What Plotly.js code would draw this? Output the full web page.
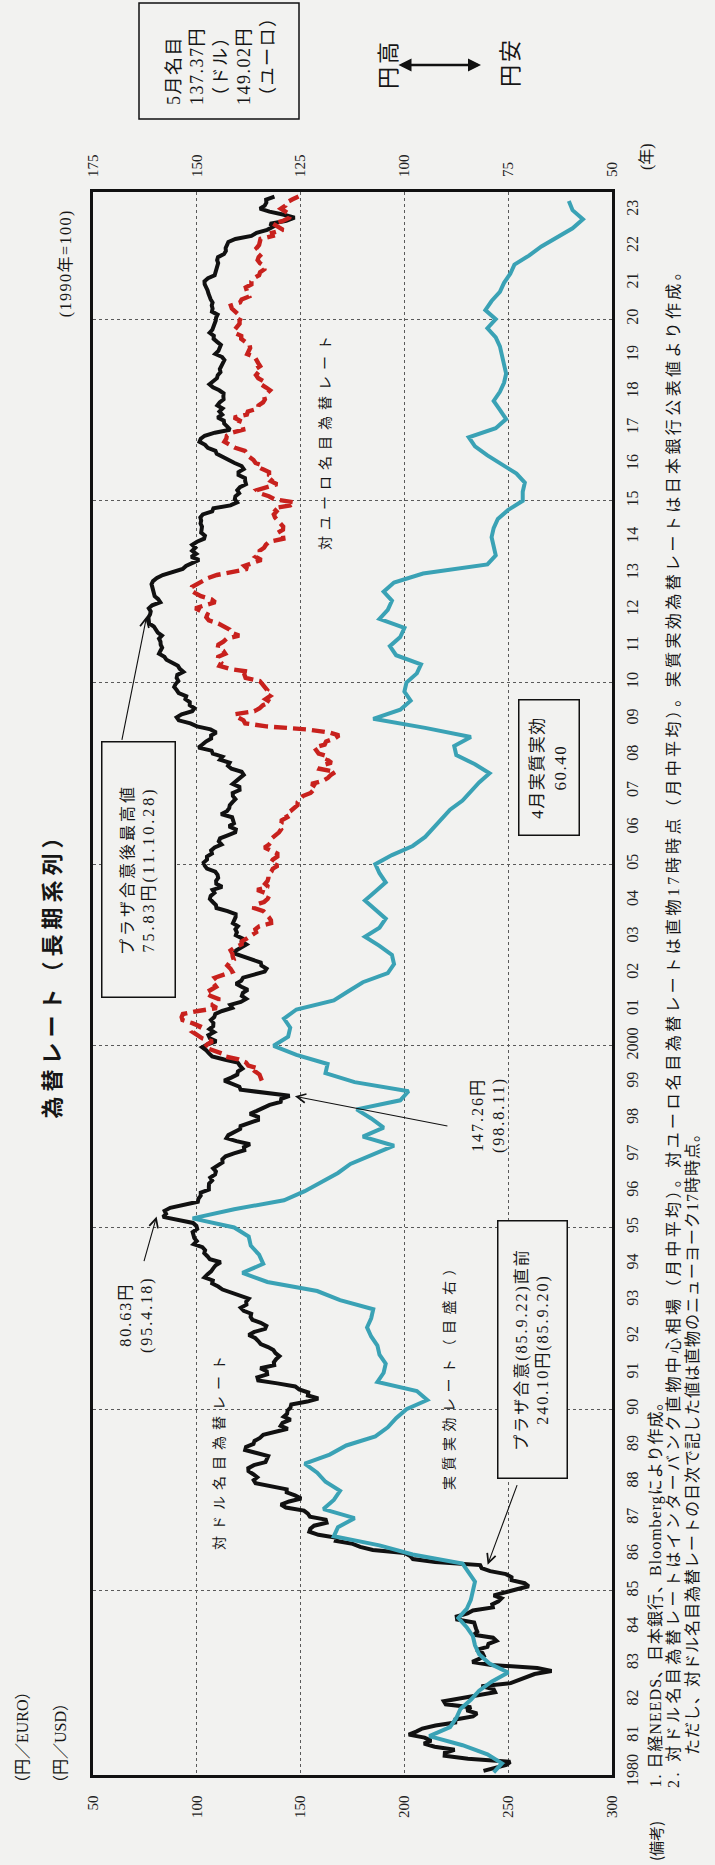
<!DOCTYPE html>
<html>
<head>
<meta charset="utf-8">
<script src="https://cdn.plot.ly/plotly-3.0.1.min.js"></script>
<style>
html,body{margin:0;padding:0;background:#f2f2f0;}
#chart{width:715px;height:1865px;}
</style>
</head>
<body>
<div id="chart"></div>
<script>
// ---------------- DATA ----------------
const yearTicks = [1980,1981,1982,1983,1984,1985,1986,1987,1988,1989,1990,1991,1992,1993,1994,1995,1996,1997,1998,1999,
  2000,2001,2002,2003,2004,2005,2006,2007,2008,2009,2010,2011,2012,2013,2014,2015,2016,2017,2018,2019,2020,2021,2022,2023];
const yearLabels = ['1980','81','82','83','84','85','86','87','88','89','90','91','92','93','94','95','96','97','98','99',
  '2000','01','02','03','04','05','06','07','08','09','10','11','12','13','14','15','16','17','18','19','20','21','22','23'];
const gridYears = [1985,1990,1995,2000,2005,2010,2015,2020];
const leftTicks = [50,100,150,200,250,300];      // 円/USD, 円/EURO
const rightTicks = [175,150,125,100,75,50];      // 1990年=100

// 対ドル名目為替レート (月中平均), 1980年1月から
const usdStart = 1980;
const usdMonthly = [
 238.1,244.1,249.1,251.0,230.6,219.4,219.5,224.2,214.6,209.4,212.9,209.7,
 202.1,205.7,208.6,215.0,224.5,224.6,233.0,235.0,230.0,232.1,219.9,219.0,
 226.7,235.4,243.7,243.0,237.1,251.2,255.1,258.7,262.7,270.9,264.0,241.9,
 232.7,236.0,238.3,237.6,234.7,240.0,240.5,244.3,242.7,233.4,235.1,234.5,
 233.9,233.6,225.4,225.2,230.4,233.0,242.6,242.3,245.3,246.8,243.0,247.9,
 254.2,259.9,257.9,251.6,251.6,248.9,241.3,237.2,236.5,214.8,204.1,202.8,
 200.1,184.8,178.7,175.1,167.0,167.5,158.6,154.2,154.7,156.5,162.5,162.1,
 154.5,153.5,151.6,142.9,140.5,144.5,150.3,147.3,143.3,143.3,135.4,128.3,
 127.4,129.1,127.2,124.9,124.8,127.5,133.1,133.5,134.4,128.8,123.3,123.7,
 127.3,127.8,130.4,132.0,138.4,143.8,140.4,141.3,145.2,141.9,143.5,143.7,
 145.1,145.5,153.2,158.5,153.5,153.7,149.3,147.4,138.8,129.6,129.2,133.9,
 133.7,130.6,137.3,137.1,138.2,139.8,137.9,136.9,134.3,130.8,129.6,128.1,
 125.0,127.7,132.9,133.5,130.8,126.8,125.9,126.2,122.6,121.2,123.9,123.8,
 125.0,120.8,117.0,112.4,110.3,107.4,107.7,103.7,105.1,106.9,107.9,109.1,
 111.5,106.3,105.1,103.6,104.0,102.7,98.5,100.0,98.8,98.4,98.0,100.2,
 99.8,98.2,90.8,83.7,85.2,84.5,87.2,94.6,100.5,100.8,101.9,101.9,
 105.8,105.8,105.9,107.4,106.5,108.8,109.2,107.9,109.9,112.4,112.3,113.9,
 117.9,122.9,122.7,125.6,119.1,114.3,115.2,117.9,120.9,121.1,125.4,129.5,
 129.5,125.6,128.9,131.8,135.1,140.4,140.7,144.7,134.5,121.1,120.5,117.4,
 113.2,116.6,119.5,119.8,122.0,120.7,119.7,113.2,107.4,105.9,104.6,102.6,
 105.2,109.4,106.3,105.6,108.3,106.1,107.9,108.0,106.8,108.4,108.9,112.2,
 117.1,116.1,121.2,123.8,121.7,122.2,124.6,121.5,118.9,121.4,122.3,127.6,
 132.7,133.6,131.1,130.8,126.4,123.3,118.0,118.9,121.1,123.9,121.6,121.9,
 118.8,119.3,118.6,119.8,117.4,118.3,118.7,118.7,114.8,109.5,109.2,107.7,
 106.3,106.7,108.5,107.6,112.2,109.4,109.3,110.3,110.0,108.9,104.9,103.8,
 103.3,104.9,104.9,107.3,106.9,108.6,111.9,110.6,111.2,114.9,118.5,118.8,
 115.5,117.9,117.3,117.0,111.7,114.5,115.6,115.9,117.2,118.6,117.4,117.3,
 120.6,120.5,117.3,118.8,120.8,122.6,121.6,116.7,115.0,115.8,111.2,112.4,
 107.7,107.1,100.8,102.7,104.4,106.9,106.9,109.4,106.6,100.1,96.9,91.3,
 90.3,92.7,97.8,98.9,96.6,96.6,94.5,94.9,91.3,90.3,89.1,89.8,
 91.1,90.3,90.6,93.5,91.8,90.9,87.6,85.4,84.4,81.8,82.5,83.3,
 82.6,82.5,81.8,83.2,81.2,80.5,79.3,77.0,76.8,76.7,77.5,77.8,
 76.9,78.5,82.4,81.4,79.7,79.3,78.9,78.7,78.2,78.9,80.8,83.6,
 89.2,93.2,94.8,97.7,101.1,97.3,99.7,97.8,99.3,97.8,100.1,103.5,
 103.9,102.1,102.3,102.5,101.8,102.1,101.7,102.9,107.4,108.0,116.2,119.4,
 118.3,118.6,120.4,119.5,120.8,123.7,123.3,123.2,120.1,120.1,122.6,121.6,
 118.2,115.0,112.9,109.6,109.0,105.3,104.0,101.3,101.9,103.8,108.7,116.0,
 114.7,113.2,113.0,110.0,112.2,110.9,112.4,109.9,111.0,112.9,112.8,112.9,
 110.8,107.8,106.1,107.6,109.7,110.1,111.4,111.1,111.9,112.8,113.3,112.2,
 108.9,110.4,111.2,111.6,109.8,108.1,108.2,106.2,107.5,108.1,108.9,109.1,
 109.3,110.0,107.3,107.6,107.2,107.6,106.7,106.0,105.6,105.2,104.4,103.8,
 103.7,105.4,108.6,109.1,109.1,110.1,110.3,109.8,110.2,113.1,114.0,113.9,
 114.8,115.2,118.6,126.3,128.8,133.9,136.7,135.3,143.1,147.1,142.0,135.0,
 130.4,132.7,133.5,133.4,137.4
];

// 対ユーロ名目為替レート (月中平均), 1999年1月から
const eurStart = 1999;
const eurMonthly = [
 131.3,130.8,130.2,128.2,129.7,124.8,123.7,120.1,113.4,112.0,108.3,103.7,
 105.1,107.6,102.6,99.9,98.1,100.7,101.4,97.8,93.1,92.7,93.3,100.6,
 109.6,107.1,110.3,110.4,106.5,104.3,107.2,109.3,108.2,109.9,108.7,113.4,
 117.1,116.2,114.7,115.8,117.8,117.3,117.1,116.3,118.4,121.6,121.7,124.2,
 126.1,128.6,128.2,130.1,135.8,135.7,134.7,133.4,132.1,127.6,127.8,132.4,
 134.1,134.8,133.1,129.1,134.5,132.9,134.1,134.5,134.5,135.9,136.6,139.1,
 135.6,136.6,138.8,138.8,135.4,132.6,134.8,135.9,136.1,138.1,139.6,140.6,
 139.8,140.8,140.9,143.6,142.7,145.1,146.7,148.5,148.6,149.6,151.1,154.8,
 156.6,157.6,155.2,160.7,163.2,164.6,166.8,159.1,159.8,164.9,162.9,163.6,
 158.7,157.9,156.6,161.6,162.3,166.3,168.5,163.6,153.2,133.5,123.3,122.5,
 119.7,118.3,127.7,130.3,131.9,135.4,133.1,135.3,133.1,133.9,132.7,131.2,
 130.3,123.5,123.0,125.3,115.8,110.9,111.7,110.0,110.3,113.7,112.7,110.1,
 110.4,112.8,114.4,120.4,116.5,115.8,113.3,110.4,105.8,104.6,105.1,102.6,
 99.3,103.8,108.9,107.0,102.0,99.3,97.1,97.6,100.5,102.5,105.4,109.7,
 118.3,124.4,122.9,127.5,131.1,128.4,130.4,130.3,132.4,133.3,134.9,141.7,
 141.5,139.1,141.5,141.6,140.1,138.7,137.7,137.1,138.4,136.9,145.0,147.1,
 137.5,134.7,130.4,128.9,134.9,138.7,135.7,137.1,134.8,134.8,131.6,132.4,
 128.3,127.3,125.3,124.3,123.2,118.5,115.3,113.3,114.2,114.5,116.9,122.4,
 122.1,120.2,120.7,117.9,124.1,124.6,129.5,129.7,131.9,132.8,132.4,133.6,
 135.3,133.2,130.9,132.2,129.6,128.5,129.7,128.2,130.5,129.6,128.8,127.9,
 124.3,125.3,125.7,125.4,123.1,121.4,121.4,118.2,118.2,119.4,120.6,120.6,
 121.4,120.1,118.6,116.9,116.4,120.8,121.6,125.2,124.5,124.1,123.6,126.3,
 126.3,127.5,130.0,130.5,132.6,132.6,130.4,129.3,129.8,131.2,130.1,128.8,
 130.0,130.2,130.7,136.6,136.2,141.6,139.2,136.7,141.6,144.6,145.1,142.8,
 140.5,142.7,143.1,145.9,149.0
];

// 実質実効為替レート (1990年=100, 目盛右), 1980年から四半期ごとに読み取り
const reerStart = 1980;
const reerQuarterly = [
 78.5,76.5,80,86,
 94,89,87.5,86.5,
 84,82,79,75,
 79.5,82,83,83.5,
 85,87,85,84,
 83.5,83,84.5,86,
 98,106,117,116,
 112,119.5,117,115.5,
 119,121,124,118,
 114,107,104,102,
 99.5,94.5,97,106.5,
 105,104.5,106,106.5,
 108,109,108,107.5,
 115.5,121,133,139,
 134,135,137,137.5,
 141,151,141,129,
 124,120,116,113,
 108,102.5,110,105,
 108,111.5,101,99,
 112,119,118.5,126,
 131.5,128,127.5,129,
 126,117,113.5,110,
 104,102.5,103,106,
 109.5,106,104.5,107,
 109.5,107,104.5,106,
 107,103,98,95,
 93,91,89,86,
 84,82,79.5,83,
 87.5,88,84,95,
 107.5,101,98.5,100,
 99.5,97,96,102,
 103.5,101,100,106,
 104,103,105,102.5,
 95.5,80,78,78.5,
 79,78.5,77.5,75,
 71.5,71.5,71,73,
 76.5,80,83,84.5,
 78,75.5,77,78.5,
 77,76,75.5,76,
 76.5,77,78,80,
 78,80.5,79,77,
 76,74.5,73.5,70,
 67,63,59.5,57,
 59.5,60.4
];

// ---------------- LAYOUT GEOMETRY ----------------
const W = 715, H = 1865;
const PL = 93, PR = 612, PT = 192, PB = 1775;
const px = x => (x - PL) / (PR - PL);
const py = y => (PB - y) / (PB - PT);

const SERIF = '"Liberation Serif","Noto Sans CJK JP",serif';
const GOTH = '"Noto Sans CJK JP","Noto Sans",sans-serif';
const INK = '#161616';
const BG = '#f2f2f0';

const usdDates = usdMonthly.map((v, i) => usdStart + (i + 0.5) / 12);
const eurDates = eurMonthly.map((v, i) => eurStart + (i + 0.5) / 12);
const reerDates = reerQuarterly.map((v, i) => reerStart + i / 4);

const traces = [
  {x: usdMonthly, y: usdDates, xaxis: 'x', yaxis: 'y', type: 'scatter', mode: 'lines',
   line: {color: '#111111', width: 4}, name: '対ドル名目為替レート'},
  {x: reerQuarterly, y: reerDates, xaxis: 'x2', yaxis: 'y2', type: 'scatter', mode: 'lines',
   line: {color: '#3aa2b5', width: 4}, name: '実質実効レート'},
  {x: eurMonthly, y: eurDates, xaxis: 'x', yaxis: 'y', type: 'scatter', mode: 'lines',
   line: {color: '#c8211d', width: 4.4, dash: '13px,6px'}, name: '対ユーロ名目為替レート'}
];

// annotation helpers
function T(text, cx, cy, size, o) {
  o = o || {};
  const a = {
    text: text, xref: 'paper', yref: 'paper', x: px(cx), y: py(cy),
    xanchor: 'center', yanchor: o.yanchor || 'middle', textangle: -90, showarrow: false,
    align: o.align || 'center',
    font: {family: o.family || SERIF, size: size, color: INK, weight: o.weight || 'normal'}
  };
  if (o.box) {
    a.bordercolor = '#111'; a.borderwidth = 1.5; a.borderpad = 2; a.bgcolor = BG;
    a.width = o.box[0]; a.height = o.box[1];
  }
  a._sp = o.sp || 0;
  return a;
}
function arrowTo(xv, yv, ax, ay, o) {
  o = o || {};
  return Object.assign({
    text: '', xref: 'x', yref: 'y', x: xv, y: yv, ax: ax, ay: ay, showarrow: true,
    arrowhead: 5, arrowsize: 1.6, arrowwidth: 1.1, arrowcolor: '#111', standoff: 0, _sp: 0
  }, o);
}

const ann = [
  T('為替レート（長期系列）', 50, 970, 22, {family: GOTH, weight: 'bold', sp: 5}),
  T('(1990年=100)', 66, 263, 16, {sp: 1.5}),
  T('（円／EURO）', 22, 1793, 16, {yanchor: 'bottom', align: 'left'}),
  T('（円／USD）', 60, 1793, 16, {yanchor: 'bottom', align: 'left'}),
  T('(年)', 647, 157, 16),
  T('5月名目<br>137.37円<br>（ドル）<br>149.02円<br>（ユーロ）', 221, 60, 18, {align: 'left', sp: 1.5}),
  T('円高', 386, 64, 22, {family: GOTH, sp: 3}),
  T('円安', 508, 62, 22, {family: GOTH, sp: 3}),
  {text: '', xref: 'paper', yref: 'paper', x: px(481), y: py(65), ax: -84, ay: 0, showarrow: true,
   arrowside: 'end+start', arrowhead: 2, startarrowhead: 2, arrowsize: 1, startarrowsize: 1,
   arrowwidth: 2.6, arrowcolor: '#111', standoff: 0, startstandoff: 0, _sp: 0},
  // notes
  T('(備考)', 655, 1863, 15, {family: GOTH, yanchor: 'bottom', align: 'left'}),
  T('1. 日経NEEDS、日本銀行、Bloombergにより作成。', 655, 1790, 16, {family: SERIF, yanchor: 'bottom', align: 'left', sp: 1}),
  T('2. 対ドル名目為替レートはインターバンク直物中心相場（月中平均）。対ユーロ名目為替レートは直物17時時点（月中平均）。実質実効為替レートは日本銀行公表値より作成。', 673, 1790, 16, {yanchor: 'bottom', align: 'left', sp: 3.4}),
  T('ただし、対ドル名目為替レートの日次で記した値は直物のニューヨーク17時時点。', 692, 1757, 16, {yanchor: 'bottom', align: 'left', sp: 1}),
  // in-plot labels
  T('対ユーロ名目為替レート', 324, 440, 14, {family: GOTH, sp: 6}),
  T('対ドル名目為替レート', 218, 1450, 14, {family: GOTH, sp: 6}),
  T('実質実効レート（目盛右）', 448, 1373, 14, {family: GOTH, sp: 5.5}),
  T('プラザ合意後最高値<br>75.83円(11.10.28)', 138, 870, 16, {box: [250, 68], sp: 3}),
  T('4月実質実効<br>60.40', 549, 768, 17, {box: [130, 55], sp: 1.5}),
  T('147.26円<br>(98.8.11)', 488, 1115, 16, {sp: 2}),
  T('80.63円<br>(95.4.18)', 136, 1315, 16, {sp: 2}),
  T('プラザ合意(85.9.22)直前<br>240.10円(85.9.20)', 532, 1350, 16, {box: [252, 64], sp: 2}),
  // arrows to data points
  arrowTo(75.83, 2011.82, -25, 125),
  arrowTo(147.26, 1998.61, 154, 30),
  arrowTo(80.63, 1995.30, -13, 46),
  arrowTo(240.10, 1985.72, 30, -81)
];

// per-annotation letter spacing through CSS
const css = ann.map((a, i) => a._sp ? `.annotation[data-index="${i}"] text.annotation-text{letter-spacing:${a._sp}px;}` : '').join('\n');
const st = document.createElement('style'); st.textContent = css; document.head.appendChild(st);
ann.forEach(a => { delete a._sp; });

const axisFont = {family: '"Liberation Serif",serif', size: 15, color: '#222'};

const layout = {
  width: W, height: H,
  margin: {l: PL, r: W - PR, t: PT, b: H - PB, pad: 0},
  paper_bgcolor: BG, plot_bgcolor: BG,
  showlegend: false,
  xaxis: {
    range: [50, 300], tickmode: 'array', tickvals: leftTicks, ticktext: leftTicks.map(String),
    tickangle: -90, side: 'bottom', ticks: '', ticklabelstandoff: 12, tickfont: axisFont,
    showgrid: true, gridcolor: '#5a5a5a', griddash: 'dot', gridwidth: 1,
    showline: true, mirror: true, linecolor: '#111', linewidth: 2.6, zeroline: false, fixedrange: true
  },
  xaxis2: {
    range: [175, 50], overlaying: 'x', side: 'top', tickmode: 'array', tickvals: rightTicks,
    ticktext: rightTicks.map(String), tickangle: -90, ticks: '', ticklabelstandoff: 14, tickfont: axisFont,
    showgrid: false, showline: false, zeroline: false, fixedrange: true
  },
  yaxis: {
    range: [1979.93, 2023.5], tickmode: 'array', tickvals: yearTicks, ticktext: yearLabels,
    tickangle: -90, side: 'right', ticks: '', ticklabelstandoff: 4,
    tickfont: {family: '"Liberation Serif",serif', size: 16, color: '#222'},
    showgrid: false, showline: true, mirror: true, linecolor: '#111', linewidth: 2.6, zeroline: false, fixedrange: true
  },
  yaxis2: {
    range: [1979.93, 2023.5], overlaying: 'y', side: 'left', tickmode: 'array', tickvals: gridYears,
    showticklabels: false, ticks: '', showgrid: true, gridcolor: '#5a5a5a', griddash: 'dot', gridwidth: 1,
    showline: false, zeroline: false, fixedrange: true
  },
  shapes: [
    {type: 'rect', xref: 'paper', yref: 'paper', x0: px(139), x1: px(299), y0: py(119), y1: py(3),
     line: {color: '#111', width: 1.5}, fillcolor: 'rgba(0,0,0,0)', layer: 'above'}
  ],
  annotations: ann
};

Plotly.newPlot('chart', traces, layout, {staticPlot: true, displayModeBar: false});
</script>
</body>
</html>
